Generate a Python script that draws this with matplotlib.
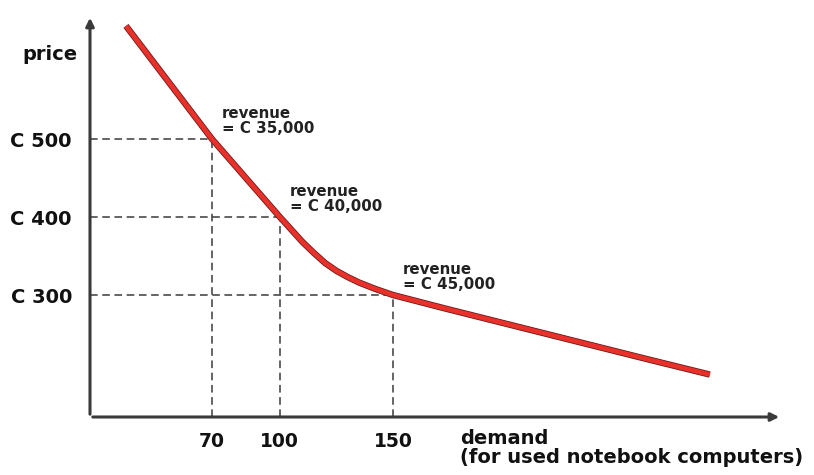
import matplotlib.pyplot as plt
import matplotlib.patheffects as pe

# demand curve
demand = [32, 70, 100, 105, 110, 115, 120, 125, 130, 135, 142, 150, 162, 174, 196, 218, 240, 262, 290]
price = [645, 500, 400, 384, 368, 354, 341, 331, 323, 316, 308, 300, 291, 282, 266, 250, 234, 218, 198]

marked_demand = [70, 100, 150]
marked_price = [500, 400, 300]
revenue_labels = ['revenue\n= C 35,000', 'revenue\n= C 40,000', 'revenue\n= C 45,000']
price_labels = ['C 500', 'C 400', 'C 300']
demand_labels = ['70', '100', '150']

dark = '#3a3a3a'

fig = plt.figure(figsize=(8.14, 4.75), dpi=100)
ax = fig.add_axes([90 / 814, 1 - 417 / 475, 692 / 814, 402 / 475])
ax.set_xlim(16.1, 321.9)
ax.set_ylim(143.6, 659)

for s in ax.spines.values():
    s.set_visible(False)

# axes with arrows
ax.annotate('', xy=(1, 0), xytext=(0, 0), xycoords='axes fraction',
            arrowprops=dict(arrowstyle='-|>', color=dark, lw=2.2, mutation_scale=12))
ax.annotate('', xy=(0, 1), xytext=(0, 0), xycoords='axes fraction',
            arrowprops=dict(arrowstyle='-|>', color=dark, lw=2.2, mutation_scale=12))

# dashed guide lines
for d, p in zip(marked_demand, marked_price):
    ax.plot([16.1, d], [p, p], color=dark, lw=1.1, dashes=(5, 3))
    ax.plot([d, d], [143.6, p], color=dark, lw=1.1, dashes=(5, 3))

ax.plot(demand, price, color='#e8312a', lw=3.4, solid_capstyle='butt', solid_joinstyle='round',
        path_effects=[pe.Stroke(linewidth=4.6, foreground='#6e1a18', joinstyle='round'), pe.Normal()],
        zorder=3)

for d, p, t in zip(marked_demand, marked_price, revenue_labels):
    ax.annotate(t, xy=(d, p), xytext=(10, 3), textcoords='offset pixels',
                ha='left', va='bottom', fontsize=10.8, fontweight='bold',
                color='#222222', linespacing=1.0)

ax.set_xticks(marked_demand)
ax.set_xticklabels(demand_labels)
ax.set_yticks(marked_price)
ax.set_yticklabels(price_labels)
ax.tick_params(length=0)
ax.tick_params(axis='x', pad=11, labelsize=13.5)
ax.tick_params(axis='y', pad=13, labelsize=14)
for lab in ax.get_xticklabels() + ax.get_yticklabels():
    lab.set_fontweight('bold')
    lab.set_color('#111111')

fig.text(78 / 814, 1 - 55 / 475, 'price', ha='right', va='center',
         fontsize=14, fontweight='bold', color='#111111')
fig.text(460 / 814, 1 - 429 / 475, 'demand\n(for used notebook computers)', ha='left', va='top',
         fontsize=14, fontweight='bold', color='#111111', linespacing=1.0)

fig.savefig('out.png', dpi=100)
